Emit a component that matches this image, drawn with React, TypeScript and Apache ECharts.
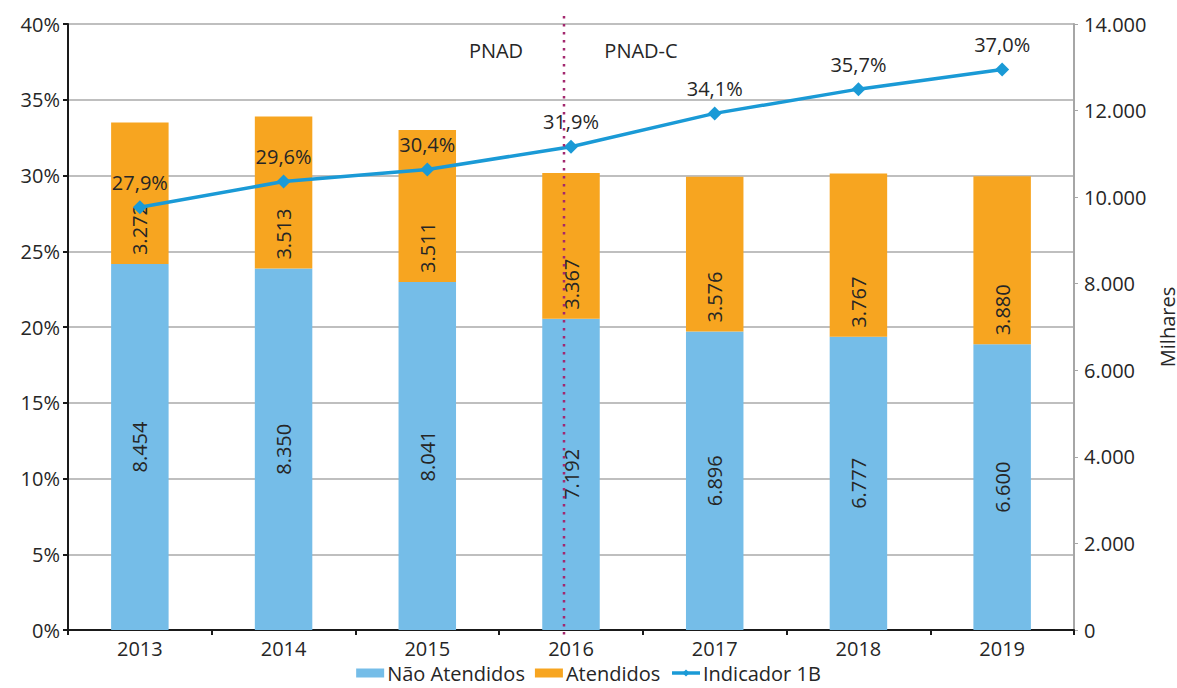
import React, { useEffect, useRef } from "react";
import * as echarts from "echarts";

const years = ["2013", "2014", "2015", "2016", "2017", "2018", "2019"];
const naoAtendidos = [8454, 8350, 8041, 7192, 6896, 6777, 6600];
const atendidos = [3272, 3513, 3511, 3367, 3576, 3767, 3880];
const indicador1B = [27.9, 29.6, 30.4, 31.9, 34.1, 35.7, 37.0];
const leftTicks = { min: 0, max: 40, interval: 5 };
const rightTicks = { min: 0, max: 14000, interval: 2000 };

const FONT = "'Open Sans', 'Noto Sans', sans-serif";
const TEXT = "#262626";
const FS = 20;
const FW = 500;

const thousands = (v: number) => String(Math.round(v)).replace(/\B(?=(\d{3})+(?!\d))/g, ".");

export default function App() {
  const ref = useRef<HTMLDivElement>(null);
  useEffect(() => {
    if (!ref.current) return;
    const chart = echarts.init(ref.current, null, { renderer: "svg" });
    const ts = { fontSize: FS, color: TEXT, fontFamily: FONT, fontWeight: FW };
    chart.setOption({
      animation: false,
      textStyle: { fontFamily: FONT },
      grid: { left: 68, right: 103, top: 24, bottom: 58, outerBoundsMode: "none", containLabel: false },
      legend: {
        bottom: 0,
        left: "center",
        itemWidth: 28,
        itemHeight: 9,
        itemGap: 10,
        textStyle: { ...ts, padding: [0, 0, 0, -2] },
        data: [
          { name: "Não Atendidos", icon: "rect" },
          { name: "Atendidos", icon: "rect" },
          { name: "Indicador 1B", itemStyle: { color: "#1a9ad6" }, lineStyle: { width: 3.5 } },
        ],
      },
      xAxis: {
        type: "category",
        data: years,
        axisLine: { lineStyle: { color: "#1a1a1a", width: 2 } },
        axisTick: { show: true, length: 5, lineStyle: { color: "#1a1a1a", width: 2 } },
        axisLabel: { ...ts, margin: 8 },
      },
      yAxis: [
        {
          type: "value",
          min: leftTicks.min,
          max: leftTicks.max,
          interval: leftTicks.interval,
          axisLine: { show: true, lineStyle: { color: "#1a1a1a", width: 2 } },
          axisTick: { show: true, length: 5, lineStyle: { color: "#1a1a1a", width: 2 } },
          axisLabel: { ...ts, margin: 8, formatter: "{value}%" },
          splitLine: { lineStyle: { color: "#bfbfbf", width: 2 } },
        },
        {
          type: "value",
          min: rightTicks.min,
          max: rightTicks.max,
          interval: rightTicks.interval,
          position: "right",
          name: "Milhares",
          nameLocation: "middle",
          nameRotate: 90,
          nameGap: 77,
          nameTextStyle: { ...ts, lineHeight: 18 },
          axisLine: { show: true, lineStyle: { color: "#a6a6a6", width: 2 } },
          axisTick: { show: true, length: 4, lineStyle: { color: "#a6a6a6", width: 1 } },
          axisLabel: { ...ts, margin: 10, formatter: (v: number) => thousands(v) },
          splitLine: { show: false },
        },
      ],
      series: [
        {
          name: "Não Atendidos",
          type: "bar",
          stack: "total",
          yAxisIndex: 1,
          barWidth: "40%",
          data: naoAtendidos,
          itemStyle: { color: "#75bde8" },
          label: {
            show: true,
            position: "inside",
            rotate: 90,
            ...ts,
            formatter: (p: any) => thousands(p.value),
          },
        },
        {
          name: "Atendidos",
          type: "bar",
          stack: "total",
          yAxisIndex: 1,
          barWidth: "40%",
          data: atendidos,
          itemStyle: { color: "#f7a520" },
          label: {
            show: true,
            position: "insideBottom",
            distance: 9,
            rotate: 90,
            align: "left",
            verticalAlign: "middle",
            ...ts,
            formatter: (p: any) => thousands(p.value),
          },
        },
        {
          name: "Indicador 1B",
          type: "line",
          yAxisIndex: 0,
          data: indicador1B,
          symbol: "diamond",
          symbolSize: 14,
          lineStyle: { color: "#1a9ad6", width: 3.5 },
          itemStyle: { color: "#1a9ad6" },
          label: {
            show: true,
            position: "top",
            distance: 8,
            ...ts,
            formatter: (p: any) => p.value.toFixed(1).replace(".", ",") + "%",
          },
          z: 5,
        },
      ],
      graphic: [
        {
          type: "line",
          shape: { x1: 564, y1: 16, x2: 564, y2: 636 },
          style: { stroke: "#a3286e", lineWidth: 2.5, lineDash: [2.5, 5.5] },
          z: 10,
        },
        {
          type: "text",
          x: 496,
          y: 50,
          style: { text: "PNAD", fontSize: FS, fontWeight: FW, fill: TEXT, fontFamily: FONT, textAlign: "center", textVerticalAlign: "middle" },
        },
        {
          type: "text",
          x: 641,
          y: 50,
          style: { text: "PNAD-C", fontSize: FS, fontWeight: FW, fill: TEXT, fontFamily: FONT, textAlign: "center", textVerticalAlign: "middle" },
        },
      ],
    });
    return () => chart.dispose();
  }, []);
  return <div ref={ref} style={{ width: 1177, height: 688, position: "absolute", left: 0, top: 0 }} />;
}
